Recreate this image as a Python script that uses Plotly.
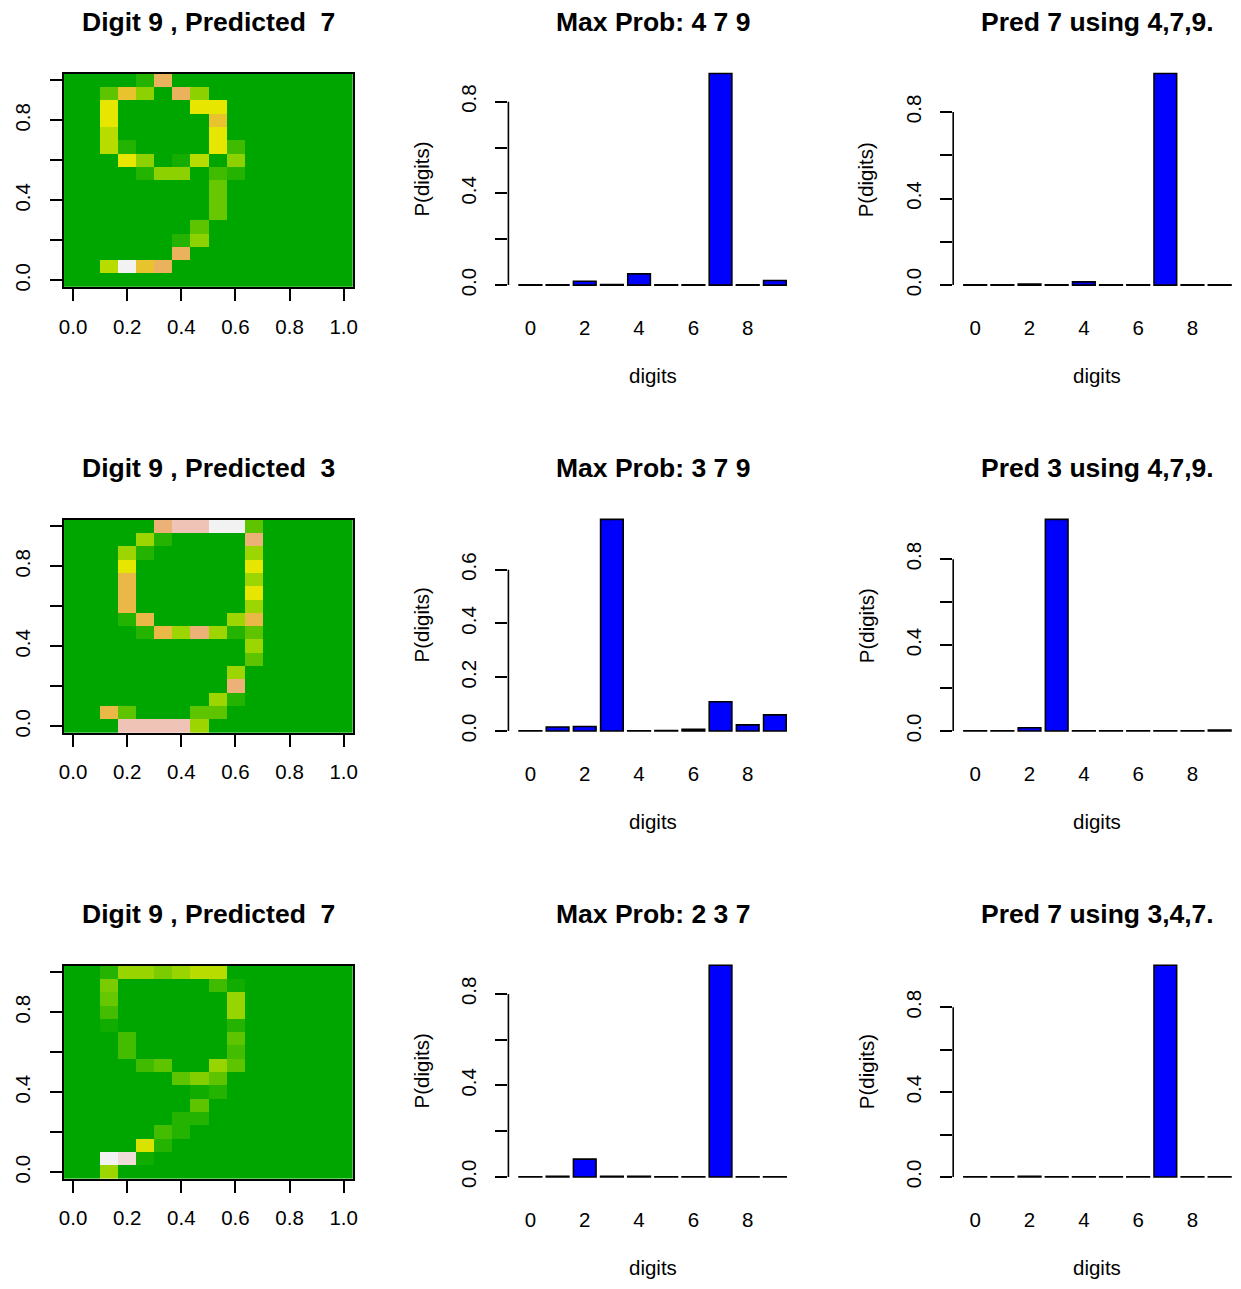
import colorsys
import plotly.graph_objects as go

# ---------------- data ----------------
digits = list(range(10))

# 16x16 digit images (rows listed top to bottom), values on terrain scale 0..1
img1 = [
    [0, 0, 0, 0, .1, .7, 0, 0, 0, 0, 0, 0, 0, 0, 0, 0],
    [0, 0, .24, .6, .34, 0, .7, .34, 0, 0, 0, 0, 0, 0, 0, 0],
    [0, 0, .5, 0, 0, 0, 0, .5, .5, 0, 0, 0, 0, 0, 0, 0],
    [0, 0, .5, 0, 0, 0, 0, 0, .6, 0, 0, 0, 0, 0, 0, 0],
    [0, 0, .42, 0, 0, 0, 0, 0, .5, 0, 0, 0, 0, 0, 0, 0],
    [0, 0, .42, .1, 0, 0, 0, 0, .5, .17, 0, 0, 0, 0, 0, 0],
    [0, 0, 0, .5, .34, 0, .06, .42, 0, .34, 0, 0, 0, 0, 0, 0],
    [0, 0, 0, 0, .1, .34, .34, 0, .17, .1, 0, 0, 0, 0, 0, 0],
    [0, 0, 0, 0, 0, 0, 0, 0, .26, 0, 0, 0, 0, 0, 0, 0],
    [0, 0, 0, 0, 0, 0, 0, 0, .26, 0, 0, 0, 0, 0, 0, 0],
    [0, 0, 0, 0, 0, 0, 0, 0, .26, 0, 0, 0, 0, 0, 0, 0],
    [0, 0, 0, 0, 0, 0, 0, .24, 0, 0, 0, 0, 0, 0, 0, 0],
    [0, 0, 0, 0, 0, 0, .1, .34, 0, 0, 0, 0, 0, 0, 0, 0],
    [0, 0, 0, 0, 0, 0, .7, 0, 0, 0, 0, 0, 0, 0, 0, 0],
    [0, 0, .42, 1.0, .6, .7, 0, 0, 0, 0, 0, 0, 0, 0, 0, 0],
    [0, 0, 0, 0, 0, 0, 0, 0, 0, 0, 0, 0, 0, 0, 0, 0],
]
img2 = [
    [0, 0, 0, 0, 0, .75, .88, .88, 1.0, 1.0, .24, 0, 0, 0, 0, 0],
    [0, 0, 0, 0, .37, .1, 0, 0, 0, 0, .75, 0, 0, 0, 0, 0],
    [0, 0, 0, .37, .1, 0, 0, 0, 0, 0, .37, 0, 0, 0, 0, 0],
    [0, 0, 0, .5, 0, 0, 0, 0, 0, 0, .5, 0, 0, 0, 0, 0],
    [0, 0, 0, .65, 0, 0, 0, 0, 0, 0, .37, 0, 0, 0, 0, 0],
    [0, 0, 0, .65, 0, 0, 0, 0, 0, 0, .5, 0, 0, 0, 0, 0],
    [0, 0, 0, .65, 0, 0, 0, 0, 0, 0, .37, 0, 0, 0, 0, 0],
    [0, 0, 0, .1, .65, 0, 0, 0, 0, .37, .65, 0, 0, 0, 0, 0],
    [0, 0, 0, 0, .1, .65, .37, .75, .37, .1, .24, 0, 0, 0, 0, 0],
    [0, 0, 0, 0, 0, 0, 0, 0, 0, 0, .37, 0, 0, 0, 0, 0],
    [0, 0, 0, 0, 0, 0, 0, 0, 0, 0, .24, 0, 0, 0, 0, 0],
    [0, 0, 0, 0, 0, 0, 0, 0, 0, .37, 0, 0, 0, 0, 0, 0],
    [0, 0, 0, 0, 0, 0, 0, 0, 0, .75, 0, 0, 0, 0, 0, 0],
    [0, 0, 0, 0, 0, 0, 0, 0, .37, .1, 0, 0, 0, 0, 0, 0],
    [0, 0, .65, .24, 0, 0, 0, .24, .24, 0, 0, 0, 0, 0, 0, 0],
    [0, 0, 0, .88, .88, .88, .88, .37, 0, 0, 0, 0, 0, 0, 0, 0],
]
img3 = [
    [0, 0, .1, .36, .36, .3, .36, .42, .42, 0, 0, 0, 0, 0, 0, 0],
    [0, 0, .3, 0, 0, 0, 0, 0, .17, .05, 0, 0, 0, 0, 0, 0],
    [0, 0, .26, 0, 0, 0, 0, 0, 0, .36, 0, 0, 0, 0, 0, 0],
    [0, 0, .18, 0, 0, 0, 0, 0, 0, .36, 0, 0, 0, 0, 0, 0],
    [0, 0, .05, 0, 0, 0, 0, 0, 0, .1, 0, 0, 0, 0, 0, 0],
    [0, 0, 0, .18, 0, 0, 0, 0, 0, .24, 0, 0, 0, 0, 0, 0],
    [0, 0, 0, .18, 0, 0, 0, 0, 0, .18, 0, 0, 0, 0, 0, 0],
    [0, 0, 0, 0, .17, .24, 0, 0, .36, .24, 0, 0, 0, 0, 0, 0],
    [0, 0, 0, 0, 0, 0, .24, .32, .24, 0, 0, 0, 0, 0, 0, 0],
    [0, 0, 0, 0, 0, 0, 0, .05, .1, 0, 0, 0, 0, 0, 0, 0],
    [0, 0, 0, 0, 0, 0, 0, .24, 0, 0, 0, 0, 0, 0, 0, 0],
    [0, 0, 0, 0, 0, 0, .1, .1, 0, 0, 0, 0, 0, 0, 0, 0],
    [0, 0, 0, 0, 0, .18, .1, 0, 0, 0, 0, 0, 0, 0, 0, 0],
    [0, 0, 0, 0, .48, .1, 0, 0, 0, 0, 0, 0, 0, 0, 0, 0],
    [0, 0, 1.0, .95, .05, 0, 0, 0, 0, 0, 0, 0, 0, 0, 0, 0],
    [0, 0, .37, 0, 0, 0, 0, 0, 0, 0, 0, 0, 0, 0, 0, 0],
]

probs_all1 = [0.001, 0.001, 0.017, 0.002, 0.049, 0.001, 0.001, 0.923, 0.001, 0.020]
probs_sub1 = [0.001, 0.001, 0.005, 0.001, 0.015, 0.001, 0.001, 0.978, 0.001, 0.001]
probs_all2 = [0.001, 0.015, 0.017, 0.787, 0.001, 0.002, 0.006, 0.109, 0.023, 0.060]
probs_sub2 = [0.001, 0.001, 0.015, 0.985, 0.001, 0.001, 0.001, 0.001, 0.001, 0.004]
probs_all3 = [0.001, 0.003, 0.078, 0.003, 0.003, 0.001, 0.001, 0.925, 0.001, 0.001]
probs_sub3 = [0.001, 0.001, 0.003, 0.001, 0.001, 0.001, 0.001, 0.998, 0.001, 0.001]

titles_img = ["Digit 9 , Predicted \u00a07", "Digit 9 , Predicted \u00a03", "Digit 9 , Predicted \u00a07"]
titles_all = ["Max Prob: 4 7 9", "Max Prob: 3 7 9", "Max Prob: 2 3 7"]
titles_sub = ["Pred 7 using 4,7,9.", "Pred 3 using 4,7,9.", "Pred 7 using 3,4,7."]

img_ticks = [0, 0.2, 0.4, 0.6, 0.8, 1.0]
img_xticktext = ["0.0", "0.2", "0.4", "0.6", "0.8", "1.0"]
img_yticktext = ["0.0", "", "0.4", "", "0.8", ""]
bar_xticks = [0, 2, 4, 6, 8]
bar_yticks_a = [0, 0.2, 0.4, 0.6, 0.8]
bar_ytext_a = ["0.0", "", "0.4", "", "0.8"]
bar_yticks_b = [0, 0.2, 0.4, 0.6]
bar_ytext_b = ["0.0", "0.2", "0.4", "0.6"]

# ---------------- styling helpers ----------------
W, H = 1241, 1289
FONT = "Liberation Sans, Arial, Helvetica, sans-serif"
TICK_SIZE = 20.5
TITLE_SIZE = 26.5
ROW_STEP = 447.3


def terrain(t):
    if t <= 0.5:
        f = t / 0.5
        h = 4 / 12 + f * (2 / 12 - 4 / 12)
        s = 1.0
        v = 0.65 + 0.25 * f
    else:
        f = (t - 0.5) / 0.5
        h = (2 / 12) * (1 - f)
        s = 1 - f
        v = 0.9 + 0.05 * f
    r, g, b = colorsys.hsv_to_rgb(h, s, v)
    return "rgb(%d,%d,%d)" % (round(r * 255), round(g * 255), round(b * 255))


terrain_scale = [[i / 40, terrain(i / 40)] for i in range(41)]


def px_x(p):
    return p / W


def px_y(p):
    return 1 - p / H


fig = go.Figure()
layout = dict(
    width=W, height=H, margin=dict(l=0, r=0, t=0, b=0, pad=0),
    paper_bgcolor="white", plot_bgcolor="white",
    font=dict(family=FONT, size=TICK_SIZE, color="black"),
    showlegend=False, bargap=1 / 6,
)
annotations = []
shapes = []

images = [img1, img2, img3]
probs_all = [probs_all1, probs_all2, probs_all3]
probs_sub = [probs_sub1, probs_sub2, probs_sub3]

# R barplot geometry (width 1, space 0.2, 4% axis extension) -> plotly units
bar_lo = (-0.272 - 0.7) / 1.2
bar_hi = (12.472 - 0.7) / 1.2
COL2_L, COL2_R = 507.5, 798.3
COL3_L = 955.9
col3_hi = bar_lo + (W - COL3_L) / (COL2_R - COL2_L) * (bar_hi - bar_lo)

IMG_L, IMG_R = 59.5, 350.5
n = len(img1)
half = 0.5 / (n - 1)


def nm(i):
    return "" if i == 1 else str(i)


for r in range(3):
    off = r * ROW_STEP
    k = 3 * r
    ix, bx, sx = k + 1, k + 2, k + 3

    # ---- image ----
    z = images[r][::-1]
    fig.add_trace(go.Heatmap(
        z=z, x0=0, dx=1 / (n - 1), y0=0, dy=1 / (n - 1),
        colorscale=terrain_scale, zmin=0, zmax=1, showscale=False,
        xaxis="x" + nm(ix), yaxis="y" + nm(ix), hoverinfo="skip"))
    layout["xaxis" + nm(ix)] = dict(
        domain=[px_x(IMG_L), px_x(IMG_R)], range=[-half, 1 + half],
        anchor="y" + nm(ix), showgrid=False, zeroline=False,
        showline=True, mirror=True, linecolor="black", linewidth=1.6,
        ticks="outside", ticklen=12, tickwidth=1.5, tickcolor="black",
        tickvals=img_ticks, ticktext=img_xticktext, ticklabelstandoff=8)
    layout["yaxis" + nm(ix)] = dict(
        domain=[px_y(288 + off), px_y(74 + off)], range=[-half, 1 + half],
        anchor="x" + nm(ix), showgrid=False, zeroline=False,
        showline=True, mirror=True, linecolor="black", linewidth=1.6,
        ticks="outside", ticklen=12, tickwidth=1.5, tickcolor="black",
        tickvals=img_ticks, ticktext=img_yticktext, tickangle=-90,
        ticklabelstandoff=12)
    annotations.append(dict(
        text="<b>" + titles_img[r] + "</b>", x=px_x((IMG_L + IMG_R) / 2), y=px_y(22 + off),
        xref="paper", yref="paper", showarrow=False, xanchor="center", yanchor="middle",
        font=dict(size=TITLE_SIZE)))

    # ---- bar charts ----
    for (ax_i, vals, ttl, xl, xr, xhi) in [
        (bx, probs_all[r], titles_all[r], COL2_L, COL2_R, bar_hi),
        (sx, probs_sub[r], titles_sub[r], COL3_L, W, col3_hi),
    ]:
        fig.add_trace(go.Bar(
            x=digits, y=vals, marker=dict(color="#0000FF", line=dict(color="black", width=1.6)),
            xaxis="x" + nm(ax_i), yaxis="y" + nm(ax_i), hoverinfo="skip"))
        vmax = max(vals)
        if ax_i == 5:
            tv, tt = bar_yticks_b, bar_ytext_b
        else:
            tv, tt = bar_yticks_a, bar_ytext_a
        layout["xaxis" + nm(ax_i)] = dict(
            domain=[px_x(xl), px_x(xr)], range=[bar_lo, xhi], anchor="y" + nm(ax_i),
            showgrid=False, zeroline=False, showline=False, ticks="",
            tickvals=bar_xticks, ticktext=[str(v) for v in bar_xticks],
            ticklabelstandoff=20)
        layout["yaxis" + nm(ax_i)] = dict(
            domain=[px_y(294.5 + off), px_y(65.2 + off)], range=[-0.04 * vmax, 1.04 * vmax],
            anchor="x" + nm(ax_i), showgrid=False, zeroline=False, showline=False,
            ticks="outside", ticklen=12, tickwidth=1.5, tickcolor="black",
            tickvals=tv, ticktext=tt, tickangle=-90, ticklabelstandoff=11)
        shapes.append(dict(
            type="line", xref="x" + nm(ax_i) + " domain", yref="y" + nm(ax_i),
            x0=0, x1=0, y0=0, y1=tv[-1], line=dict(color="black", width=1.6)))
        cx = (xl + xl + (COL2_R - COL2_L)) / 2
        annotations.append(dict(
            text="<b>" + ttl + "</b>", x=px_x(cx), y=px_y(22 + off),
            xref="paper", yref="paper", showarrow=False, xanchor="center", yanchor="middle",
            font=dict(size=TITLE_SIZE)))
        annotations.append(dict(
            text="digits", x=px_x(cx), y=px_y(377 + off),
            xref="paper", yref="paper", showarrow=False, xanchor="center", yanchor="middle"))
        annotations.append(dict(
            text="P(digits)", x=px_x(xl - 88), y=px_y(180 + off), textangle=-90,
            xref="paper", yref="paper", showarrow=False, xanchor="center", yanchor="middle"))

layout["annotations"] = annotations
layout["shapes"] = shapes
fig.update_layout(**layout)
fig.write_html("out.html")
